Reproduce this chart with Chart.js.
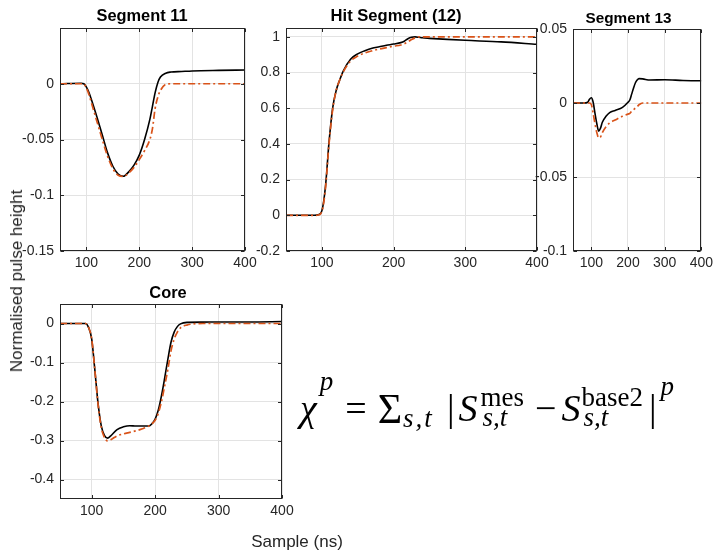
<!DOCTYPE html>
<html>
<head>
<meta charset="utf-8">
<script src="https://cdn.jsdelivr.net/npm/chart.js@4.4.1/dist/chart.umd.min.js"></script>
<style>
  body { margin: 0; background: #fff; }
  #wrap { position: relative; width: 717px; height: 553px; overflow: hidden;
          font-family: "Liberation Sans", Arial, sans-serif; color: #262626; }
  #wrap canvas { position: absolute; left: 0; top: 0; }
  .axis-label { position: absolute; font-size: 17px; white-space: nowrap; }
  #ylabel { left: 17px; top: 281px; transform: translate(-50%, -50%) rotate(-90deg); }
  #xlabel { left: 297px; top: 542px; transform: translate(-50%, -50%); }
  #formula { position: absolute; left: 300px; top: 386px; font-family: "Liberation Serif", "DejaVu Serif", serif;
             font-size: 38px; line-height: 1; color: #000; white-space: nowrap; }
  #formula .v { font-style: italic; }
  #formula .sc { font-size: 27px; position: relative; }
  #formula .big { font-size: 42px; position: relative; top: 2px; }
  #formula .stack { display: inline-block; position: relative; font-size: 27px; line-height: 1; }
  #formula .stack .hi { position: relative; top: -15px; }
  #formula .stack .lo { position: absolute; left: 2px; top: 5px; font-style: italic; }
</style>
</head>
<body>
<div id="wrap">
  <canvas id="seg11" width="717" height="553"></canvas>
  <canvas id="hit" width="717" height="553"></canvas>
  <canvas id="seg13" width="717" height="553"></canvas>
  <canvas id="core" width="717" height="553"></canvas>
  <div class="axis-label" id="ylabel">Normalised pulse height</div>
  <div class="axis-label" id="xlabel">Sample (ns)</div>
  <div id="formula"><span class="v">χ</span><span class="sc v" style="top:-31px;margin-left:3px">p</span><span style="margin-left:12px">=</span><span class="big" style="margin-left:11px">Σ</span><span class="sc v" style="top:6px;letter-spacing:2px;margin-left:1px">s,t</span><span style="margin-left:13px">|</span><span class="v" style="margin-left:4px">S</span><span class="stack" style="margin-left:3px"><span class="hi">mes</span><span class="lo">s,t</span></span><span style="margin-left:11px">−</span><span class="v" style="margin-left:5px">S</span><span class="stack" style="margin-left:1px"><span class="hi">base2</span><span class="lo">s,t</span></span><span style="margin-left:6px">|</span><span class="sc v" style="top:-26px;margin-left:4px">p</span></div>
</div>
<script>
// sample axis (ns) and tick positions shared by all panels
const xTicks = [100, 200, 300, 400];

// Segment 11
const seg11X = [50, 90, 95, 100, 105, 110, 120, 130, 140, 150, 160, 170, 180, 190, 200, 210, 220, 225, 230, 235, 240, 250, 260, 280, 300, 350, 400];
const seg11Measured = [0, 0.0005, 0, -0.003, -0.008, -0.015, -0.030, -0.046, -0.062, -0.074, -0.081, -0.083, -0.079, -0.073, -0.064, -0.050, -0.032, -0.020, -0.008, 0.001, 0.006, 0.0095, 0.0105, 0.011, 0.0115, 0.012, 0.0123];
const seg11Simulated = [0, 0, 0, -0.004, -0.010, -0.018, -0.034, -0.050, -0.065, -0.076, -0.082, -0.083, -0.080, -0.075, -0.068, -0.060, -0.050, -0.040, -0.022, -0.012, -0.006, -0.0005, 0, 0, 0, 0, 0];
const seg11YTicks = [-0.15, -0.1, -0.05, 0];

// Hit segment (12)
const hitX = [50, 90, 95, 100, 105, 110, 115, 120, 125, 130, 140, 150, 160, 170, 180, 190, 200, 210, 215, 220, 225, 230, 235, 240, 250, 275, 300, 350, 400];
const hitMeasured = [0, 0, 0.003, 0.025, 0.16, 0.41, 0.60, 0.70, 0.76, 0.81, 0.875, 0.905, 0.923, 0.937, 0.945, 0.953, 0.96, 0.968, 0.976, 0.99, 0.998, 1.0, 0.998, 0.995, 0.992, 0.986, 0.981, 0.972, 0.959];
const hitSimulated = [0, 0, 0.002, 0.02, 0.15, 0.40, 0.59, 0.70, 0.76, 0.805, 0.865, 0.893, 0.91, 0.922, 0.932, 0.94, 0.948, 0.955, 0.962, 0.972, 0.985, 0.995, 1.0, 1.0, 1.0, 1.0, 1.0, 1.0, 1.0];
const hitYTicks = [-0.2, 0, 0.2, 0.4, 0.6, 0.8, 1];

// Segment 13
const seg13X = [50, 80, 90, 95, 100, 105, 110, 115, 120, 125, 130, 140, 150, 165, 185, 200, 205, 210, 215, 220, 225, 230, 240, 260, 300, 350, 400];
const seg13Measured = [0, 0, 0.0005, 0.0025, 0.0035, 0.0005, -0.007, -0.014, -0.019, -0.017, -0.013, -0.009, -0.0065, -0.005, -0.003, 0.0005, 0.002, 0.006, 0.010, 0.0135, 0.0155, 0.0165, 0.0163, 0.0155, 0.0157, 0.0152, 0.015];
const seg13Simulated = [0, 0, 0, 0, -0.001, -0.007, -0.014, -0.020, -0.0235, -0.023, -0.020, -0.016, -0.0135, -0.0115, -0.009, -0.0075, -0.007, -0.0055, -0.0045, -0.0035, -0.0025, -0.0012, 0, 0, 0, 0, 0];
const seg13YTicks = [-0.1, -0.05, 0, 0.05];

// Core
const coreX = [50, 90, 95, 100, 105, 110, 115, 120, 125, 130, 140, 150, 160, 170, 180, 190, 195, 200, 205, 210, 215, 220, 225, 230, 235, 240, 250, 275, 300, 350, 400];
const coreMeasured = [0, 0, -0.01, -0.04, -0.12, -0.205, -0.262, -0.287, -0.294, -0.288, -0.272, -0.265, -0.262, -0.263, -0.263, -0.263, -0.257, -0.245, -0.222, -0.185, -0.14, -0.092, -0.048, -0.022, -0.008, -0.001, 0.003, 0.0035, 0.004, 0.004, 0.005];
const coreSimulated = [0, 0, -0.01, -0.04, -0.12, -0.207, -0.266, -0.292, -0.301, -0.298, -0.288, -0.283, -0.279, -0.275, -0.27, -0.263, -0.257, -0.248, -0.23, -0.2, -0.16, -0.118, -0.07, -0.04, -0.022, -0.011, -0.004, 0, 0, 0, 0];
const coreYTicks = [-0.4, -0.3, -0.2, -0.1, 0];

const W = 717, H = 553;
const Y_AXIS_W = 44, X_AXIS_H = 24;
const TXT = '#262626', BOX = '#262626', GRID = '#e3e3e3';
const TICK_LEN = 3.5;

Chart.defaults.font.family = '"Liberation Sans", Arial, sans-serif';

// MATLAB-like title, placed relative to the plot box
const panelTitle = {
  id: 'panelTitle',
  afterDraw(chart, args, opts) {
    const a = chart.chartArea, ctx = chart.ctx;
    ctx.save();
    ctx.font = 'bold ' + opts.size + 'px "Liberation Sans", Arial, sans-serif';
    ctx.fillStyle = '#000';
    ctx.textAlign = 'center';
    ctx.textBaseline = 'alphabetic';
    ctx.fillText(opts.text, (a.left + a.right) / 2 + opts.dx, a.top - opts.gap);
    ctx.restore();
  }
};

// closed box with inward tick marks on all four sides
const panelBox = {
  id: 'panelBox',
  afterDatasetsDraw(chart) {
    const a = chart.chartArea, ctx = chart.ctx;
    const L = Math.round(a.left) + 0.5, R = Math.round(a.right) - 0.5;
    const T = Math.round(a.top) + 0.5, B = Math.round(a.bottom) - 0.5;
    ctx.save();
    ctx.strokeStyle = BOX;
    ctx.lineWidth = 1;
    ctx.strokeRect(L, T, R - L, B - T);
    ctx.beginPath();
    chart.scales.x.ticks.forEach(t => {
      const px = Math.round(chart.scales.x.getPixelForValue(t.value)) + 0.5;
      ctx.moveTo(px, B); ctx.lineTo(px, B - TICK_LEN);
      ctx.moveTo(px, T); ctx.lineTo(px, T + TICK_LEN);
    });
    chart.scales.y.ticks.forEach(t => {
      const py = Math.round(chart.scales.y.getPixelForValue(t.value)) + 0.5;
      ctx.moveTo(L, py); ctx.lineTo(L + TICK_LEN, py);
      ctx.moveTo(R, py); ctx.lineTo(R - TICK_LEN, py);
    });
    ctx.stroke();
    ctx.restore();
  }
};

function toPoints(xs, ys) {
  return xs.map((x, i) => ({ x: x, y: ys[i] }));
}

function panel(canvasId, p) {
  new Chart(document.getElementById(canvasId), {
    type: 'line',
    data: {
      datasets: [
        { label: 'Measured', data: toPoints(p.x, p.measured), borderColor: '#000000', borderWidth: 1.6, order: 1 },
        { label: 'Simulated', data: toPoints(p.x, p.simulated), borderColor: '#D95319', borderWidth: 1.7,
          borderDash: [7, 3, 2, 3], order: 0 }
      ]
    },
    options: {
      responsive: false,
      animation: false,
      layout: {
        padding: { left: p.area.l - Y_AXIS_W, top: p.area.t, right: W - p.area.r, bottom: H - p.area.b - X_AXIS_H }
      },
      elements: {
        point: { radius: 0 },
        line: { cubicInterpolationMode: 'monotone', fill: false }
      },
      plugins: {
        legend: { display: false },
        tooltip: { enabled: false },
        panelTitle: { text: p.title, size: p.titleSize, dx: p.titleDx, gap: p.titleGap }
      },
      scales: {
        x: {
          type: 'linear', min: 50, max: 400,
          afterBuildTicks: s => { s.ticks = xTicks.map(v => ({ value: v })); },
          afterFit: s => { s.height = X_AXIS_H; },
          grid: { color: GRID, drawTicks: false },
          border: { display: false },
          ticks: { color: TXT, padding: 4, font: { size: 14 }, maxRotation: 0, autoSkip: false }
        },
        y: {
          min: p.yMin, max: p.yMax,
          afterBuildTicks: s => { s.ticks = p.yTicks.map(v => ({ value: v })); },
          afterFit: s => { s.width = Y_AXIS_W; },
          grid: { color: GRID, drawTicks: false },
          border: { display: false },
          ticks: { color: TXT, padding: 6, font: { size: 14 }, autoSkip: false, callback: v => String(v) }
        }
      }
    },
    plugins: [panelTitle, panelBox]
  });
}

panel('seg11', {
  x: seg11X, measured: seg11Measured, simulated: seg11Simulated,
  yMin: -0.15, yMax: 0.05, yTicks: seg11YTicks,
  area: { l: 60, t: 28, r: 245, b: 251 },
  title: 'Segment 11', titleSize: 16.4, titleDx: -10.5, titleGap: 7
});

panel('hit', {
  x: hitX, measured: hitMeasured, simulated: hitSimulated,
  yMin: -0.2, yMax: 1.05, yTicks: hitYTicks,
  area: { l: 286, t: 28, r: 537, b: 251 },
  title: 'Hit Segment (12)', titleSize: 16.6, titleDx: -15.5, titleGap: 7
});

panel('seg13', {
  x: seg13X, measured: seg13Measured, simulated: seg13Simulated,
  yMin: -0.1, yMax: 0.05, yTicks: seg13YTicks,
  area: { l: 573, t: 29, r: 707, b: 251 },
  title: 'Segment 13', titleSize: 15.3, titleDx: -8.7, titleGap: 6
});

panel('core', {
  x: coreX, measured: coreMeasured, simulated: coreSimulated,
  yMin: -0.45, yMax: 0.05, yTicks: coreYTicks,
  area: { l: 60, t: 304, r: 282, b: 499 },
  title: 'Core', titleSize: 16.4, titleDx: -3, titleGap: 6.3
});
</script>
</body>
</html>
